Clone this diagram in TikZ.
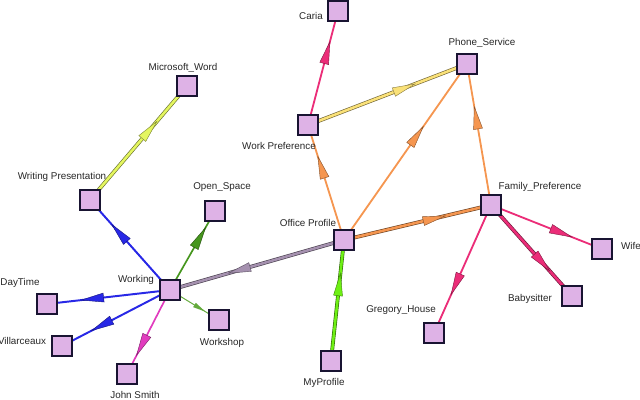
\documentclass[tikz,border=0pt]{standalone}
\usepackage{fontspec}
\setmainfont{Liberation Sans}
\usetikzlibrary{decorations.markings,backgrounds}
\definecolor{blueE}{RGB}{40,40,230}
\definecolor{greenE}{RGB}{70,150,30}
\definecolor{wsgreen}{RGB}{100,170,60}
\definecolor{magE}{RGB}{225,60,190}
\definecolor{grayE}{RGB}{165,145,175}
\definecolor{ywE}{RGB}{228,246,95}
\definecolor{yE}{RGB}{250,225,120}
\definecolor{orE}{RGB}{245,150,80}
\definecolor{pinkE}{RGB}{235,45,120}
\definecolor{limeE}{RGB}{110,240,20}
\definecolor{nodefill}{RGB}{222,178,230}
\definecolor{nodedraw}{RGB}{25,20,50}
\tikzset{
  vert/.style={draw=nodedraw,fill=nodefill,line width=1.3pt,minimum size=0.52cm,inner sep=0pt},
  lab/.style={font=\fontsize{7}{8}\selectfont,text=black!85,inner sep=0pt},
  thin/.style={draw=#1,line width=1.4pt},
  thick2/.style={draw=#1!45!black,double=#1,double distance=1.8pt,line width=0.45pt},
  head/.style={postaction={decorate,decoration={markings,mark=at position 0.54 with {\filldraw[fill=#1,draw=#1!55!black,line width=0.3pt] (0,-3.2pt) -- (16pt,0) -- (0,3.2pt) -- cycle;}}}},
  smallhead/.style={postaction={decorate,decoration={markings,mark=at position 0.5 with {\fill[#1] (0,-1.8pt) -- (9pt,0) -- (0,1.8pt) -- cycle;}}}}
}
\begin{document}
\begin{tikzpicture}[x=0.025cm,y=-0.025cm]
\useasboundingbox (0,0) rectangle (640,400);
% vertices
\node[vert] (caria) at (338,11) {};
\node[vert] (ps) at (467,64) {};
\node[vert] (wpref) at (308,125) {};
\node[vert] (msw) at (187,86) {};
\node[vert] (wp) at (90,200) {};
\node[vert] (os) at (215,211) {};
\node[vert] (wk) at (170,290) {};
\node[vert] (dt) at (47,304) {};
\node[vert] (vil) at (62,346) {};
\node[vert] (js) at (127,374) {};
\node[vert] (ws) at (219,320) {};
\node[vert] (op) at (344,240) {};
\node[vert] (fp) at (491,205) {};
\node[vert] (wife) at (602,249) {};
\node[vert] (baby) at (572,296) {};
\node[vert] (greg) at (434,333) {};
\node[vert] (myp) at (331,361) {};
% labels
\node[lab] (lcaria) at (311,16) {Caria};
\node[lab] (lps) at (482,43) {Phone\_Service};
\node[lab] (lwpref) at (279,146) {Work Preference};
\node[lab] (lmsw) at (183,68) {Microsoft\_Word};
\node[lab] (lwp) at (62,177) {Writing Presentation};
\node[lab] (los) at (222,187) {Open\_Space};
\node[lab] (lwk) at (136,280) {Working};
\node[lab] (ldt) at (20,283) {DayTime};
\node[lab] (lvil) at (22,341) {Villarceaux};
\node[lab] (ljs) at (135,395) {John Smith};
\node[lab] (lws) at (222,343) {Workshop};
\node[lab] (lop) at (308,223) {Office Profile};
\node[lab] (lfp) at (540,187) {Family\_Preference};
\node[lab] (lwife) at (631,246) {Wife};
\node[lab] (lbaby) at (530,299) {Babysitter};
\node[lab] (lgreg) at (401,310) {Gregory\_House};
\node[lab] (lmyp) at (324,383) {MyProfile};
% edges
\begin{pgfonlayer}{background}
\path[thick2=ywE,head=ywE] (wp.center) -- (msw.center);
\path[thin=blueE,head=blueE] (wk.center) -- (wp.center);
\path[draw=greenE,line width=1.2pt,head=greenE] (wk.center) -- (os.center);
\path[thin=blueE,head=blueE] (wk.center) -- (dt.center);
\path[thin=blueE,head=blueE] (wk.center) -- (vil.center);
\path[draw=magE,line width=1.2pt,head=magE] (wk.center) -- (js.center);
\path[draw=wsgreen,line width=0.7pt,smallhead=wsgreen] (wk.center) -- (ws.center);
\path[thick2=grayE,head=grayE] (op.center) -- (wk.center);
\path[draw=orE,line width=1.3pt,head=orE] (op.center) -- (wpref.center);
\path[draw=orE,line width=1.3pt,head=orE] (op.center) -- (ps.center);
\path[draw=orE,line width=1.3pt,head=orE] (fp.center) -- (ps.center);
\path[thick2=orE,head=orE] (op.center) -- (fp.center);
\path[thick2=yE,head=yE] (wpref.center) -- (ps.center);
\path[draw=pinkE,line width=1.3pt,head=pinkE] (wpref.center) -- (caria.center);
\path[thick2=limeE,head=limeE] (myp.center) -- (op.center);
\path[draw=pinkE,line width=1.3pt,head=pinkE] (fp.center) -- (wife.center);
\path[thick2=pinkE,head=pinkE] (fp.center) -- (baby.center);
\path[draw=pinkE,line width=1.3pt,head=pinkE] (fp.center) -- (greg.center);
\end{pgfonlayer}
\end{tikzpicture}
\end{document}
